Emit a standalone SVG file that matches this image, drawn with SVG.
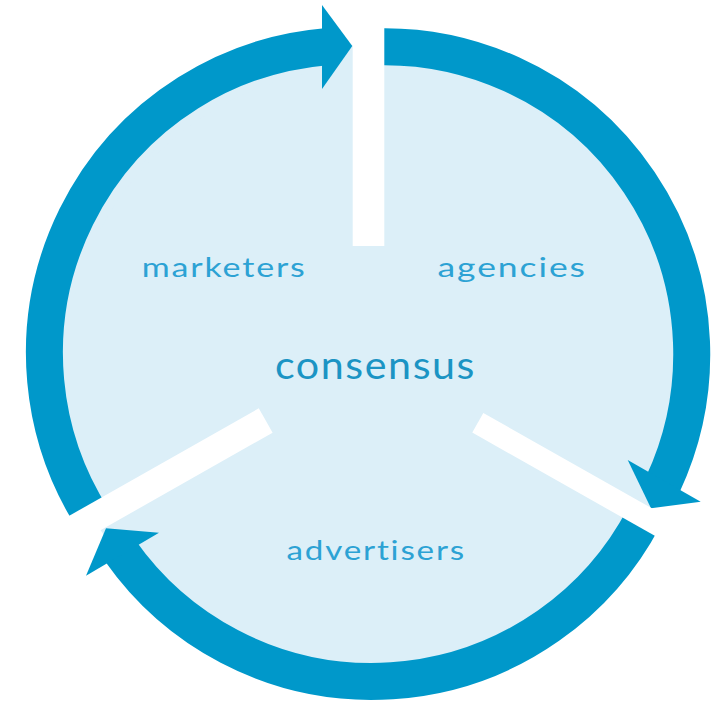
<svg xmlns="http://www.w3.org/2000/svg" width="726" height="701" viewBox="0 0 726 701">
  <style>
    .fill { fill: #DCEFF8; }
    .arc { fill: none; stroke: #0098CA; stroke-width: 37; stroke-linecap: butt; }
    .head { fill: #0098CA; }
    .gap { stroke: #FFFFFF; stroke-linecap: butt; }
    .label { font-family: Lato, "Noto Sans", sans-serif; font-size: 27.6px; fill: #2CA2D4; text-anchor: middle; letter-spacing: 1.5px; font-variant-ligatures: none; font-feature-settings: "liga" 0, "clig" 0; }
    .center { font-family: Lato, "Noto Sans", sans-serif; font-size: 39.5px; fill: #1B94C4; text-anchor: middle; letter-spacing: 1.5px; font-variant-ligatures: none; font-feature-settings: "liga" 0, "clig" 0; }
  </style>
  <rect width="726" height="701" fill="#FFFFFF"/>
  <g id="background">
    <circle class="fill" cx="351.9" cy="353.1" r="307.5"/>
    <circle class="fill" cx="384.2" cy="354.2" r="307.5"/>
    <circle class="fill" cx="371.7" cy="373.9" r="307.5"/>
  </g>
  <g id="connectors">
    <g id="arrow-marketers-to-agencies">
      <path class="arc" d="M 92.7 518.5 A 307.5 307.5 0 0 1 326 46.7"/>
      <polygon class="head" points="322,5 352.3,46 322,89"/>
    </g>
    <g id="arrow-agencies-to-advertisers">
      <path class="arc" d="M 368 47.1 A 307.5 307.5 0 0 1 662.7 484.6"/>
      <polygon class="head" points="627.7,460 651,508.3 700.7,501.7"/>
    </g>
    <g id="arrow-advertisers-to-marketers">
      <path class="arc" d="M 644.1 516.8 A 307.5 307.5 0 0 1 120.3 550.9"/>
      <polygon class="head" points="159,532.7 106,528.3 86,575.7"/>
    </g>
  </g>
  <g id="gaps">
    <line class="gap" x1="368.5" y1="246" x2="368.5" y2="-10" stroke-width="31.6"/>
    <line class="gap" x1="477.8" y1="422.8" x2="756.2" y2="580.2" stroke-width="22.5"/>
    <line class="gap" x1="265.7" y1="420.5" x2="-12.7" y2="578.3" stroke-width="28"/>
  </g>
  <g id="node-marketers">
    <text class="label" x="224.2" y="277.3" textLength="165" lengthAdjust="spacingAndGlyphs">marketers</text>
  </g>
  <g id="node-agencies">
    <text class="label" x="512.2" y="277.3" textLength="149.5" lengthAdjust="spacingAndGlyphs">agencies</text>
  </g>
  <g id="node-advertisers">
    <text class="label" x="376.2" y="560" textLength="179.5" lengthAdjust="spacingAndGlyphs">advertisers</text>
  </g>
  <g id="node-consensus">
    <text class="center" x="375.5" y="379" textLength="201" lengthAdjust="spacingAndGlyphs">consensus</text>
  </g>
</svg>
